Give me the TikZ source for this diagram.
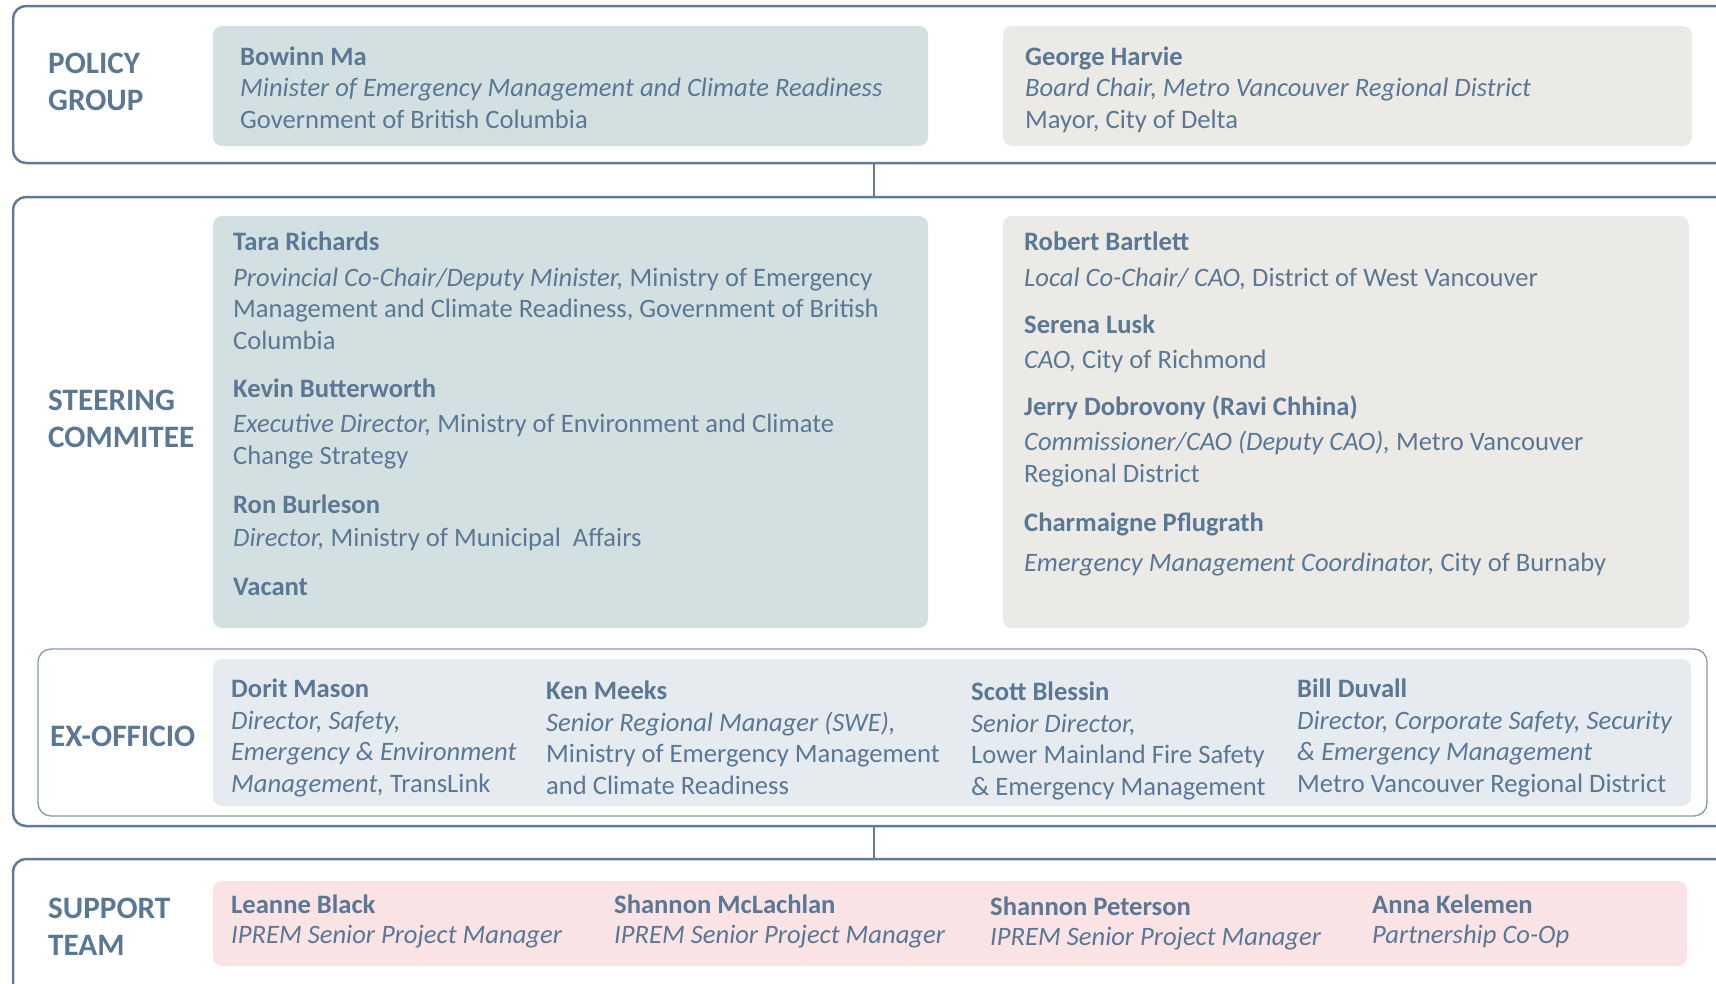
\documentclass[tikz,border=0pt]{standalone}
\usepackage{fontspec}
\setmainfont{Carlito}
\definecolor{txt}{HTML}{5A7794}
\definecolor{frm}{HTML}{5F7B9B}
\definecolor{exfrm}{HTML}{8598AE}
\definecolor{tealbox}{HTML}{D3E0E1}
\definecolor{greybox}{HTML}{EBEAE6}
\definecolor{bluebox}{HTML}{E6EBF0}
\definecolor{pinkbox}{HTML}{F9E3E5}
\tikzset{
  frame/.style={draw=frm, line width=2.5pt, rounded corners=13pt, outer sep=0pt, inner sep=0pt, anchor=north west},
  exframe/.style={draw=exfrm, line width=1.3pt, rounded corners=13pt, outer sep=0pt, inner sep=0pt, anchor=north west},
  fillbox/.style={rounded corners=9pt, outer sep=0pt, inner sep=0pt, anchor=north west},
  conn/.style={draw=frm, line width=2.5pt},
  grouplabel/.style={anchor=base west, inner sep=0pt, align=left, text=txt, font={\fontsize{31.2}{37}\selectfont\bfseries}},
  person/.style={anchor=base west, inner sep=0pt, align=left, text=txt, font={\fontsize{26.6}{31.5}\selectfont}}
}
\begin{document}
\begin{tikzpicture}[x=1pt,y=-1pt]
\useasboundingbox (0,0) rectangle (1716,983);
\clip (0,0) rectangle (1716,983);
% frames
\node[frame, minimum width=1722pt, minimum height=157pt] (policy) at (13,6) {};
\node[frame, minimum width=1722pt, minimum height=629pt] (steer) at (13,197) {};
\node[frame, minimum width=1722pt, minimum height=157pt] (support) at (13,859) {};
\node[exframe, minimum width=1669pt, minimum height=167pt] (exframe) at (38,649) {};
\draw[conn] (policy.south) -- (steer.north);
\draw[conn] (steer.south) -- (support.north);
% fill boxes
\node[fillbox, fill=tealbox, minimum width=715pt, minimum height=120pt] (bowinnbox) at (213,26) {};
\node[fillbox, fill=greybox, minimum width=689pt, minimum height=120pt] (georgebox) at (1003,26) {};
\node[fillbox, fill=tealbox, minimum width=715pt, minimum height=412pt] (tarabox) at (213,216) {};
\node[fillbox, fill=greybox, minimum width=686pt, minimum height=412pt] (robertbox) at (1003,216) {};
\node[fillbox, fill=bluebox, minimum width=1478pt, minimum height=147pt] (exbox) at (213,659) {};
\node[fillbox, fill=pinkbox, minimum width=1474pt, minimum height=85pt] (supbox) at (213,881) {};
% group labels (anchored at the baseline of the last line)
\node[grouplabel] (lpolicy) at (48,110) {POLICY\\GROUP};
\node[grouplabel] (lsteer) at (48,447) {STEERING\\COMMITEE};
\node[grouplabel] (lex) at (50,746) {EX-OFFICIO};
\node[grouplabel] (lsup) at (48,955) {SUPPORT\\TEAM};
% policy group
\node[person] (bowinn) at (240,128) {\textbf{Bowinn Ma}\\\textit{Minister of Emergency Management and Climate Readiness}\\Government of British Columbia};
\node[person] (george) at (1025,128) {\textbf{George Harvie}\\\textit{Board Chair, Metro Vancouver Regional District}\\Mayor, City of Delta};
% steering left
\node[person] (tara) at (233,349) {\textbf{Tara Richards}\\[4pt]\textit{Provincial Co-Chair/Deputy Minister,} Ministry of Emergency\\Management and Climate Readiness, Government of British\\Columbia};
\node[person] (kevin) at (233,464) {\textbf{Kevin Butterworth}\\[3.5pt]\textit{Executive Director,} Ministry of Environment and Climate\\Change Strategy};
\node[person] (ron) at (233,546) {\textbf{Ron Burleson}\\[1.5pt]\textit{Director,} Ministry of Municipal \ Affairs};
\node[person] (vacant) at (233,595) {\textbf{Vacant}};
% steering right
\node[person] (robert) at (1024,286) {\textbf{Robert Bartlett}\\[4pt]\textit{Local Co-Chair/ CAO,} District of West Vancouver};
\node[person] (serena) at (1024,368) {\textbf{Serena Lusk}\\[3.5pt]\textit{CAO,} City of Richmond};
\node[person] (jerry) at (1024,482) {\textbf{Jerry Dobrovony (Ravi Chhina)}\\[3.5pt]\textit{Commissioner/CAO (Deputy CAO),} Metro Vancouver\\Regional District};
\node[person] (charm) at (1024,571) {\textbf{Charmaigne Pflugrath}\\[8.5pt]\textit{Emergency Management Coordinator,} City of Burnaby};
% ex-officio
\node[person] (dorit) at (231,792) {\textbf{Dorit Mason}\\\textit{Director, Safety,}\\\textit{Emergency \& Environment}\\\textit{Management,} TransLink};
\node[person] (ken) at (546,794) {\textbf{Ken Meeks}\\\textit{Senior Regional Manager (SWE),}\\Ministry of Emergency Management\\and Climate Readiness};
\node[person] (scott) at (971,795) {\textbf{Scott Blessin}\\\textit{Senior Director,}\\Lower Mainland Fire Safety\\\& Emergency Management};
\node[person] (bill) at (1297,792) {\textbf{Bill Duvall}\\\textit{Director, Corporate Safety, Security}\\\textit{\& Emergency Management}\\Metro Vancouver Regional District};
% support team
\node[person] (leanne) at (231,943) {\textbf{Leanne Black}\\[-1.5pt]\textit{IPREM Senior Project Manager}};
\node[person] (mclachlan) at (614,943) {\textbf{Shannon McLachlan}\\[-1.5pt]\textit{IPREM Senior Project Manager}};
\node[person] (peterson) at (990,945) {\textbf{Shannon Peterson}\\[-1.5pt]\textit{IPREM Senior Project Manager}};
\node[person] (anna) at (1372,943) {\textbf{Anna Kelemen}\\[-1.5pt]\textit{Partnership Co-Op}};
\end{tikzpicture}
\end{document}
